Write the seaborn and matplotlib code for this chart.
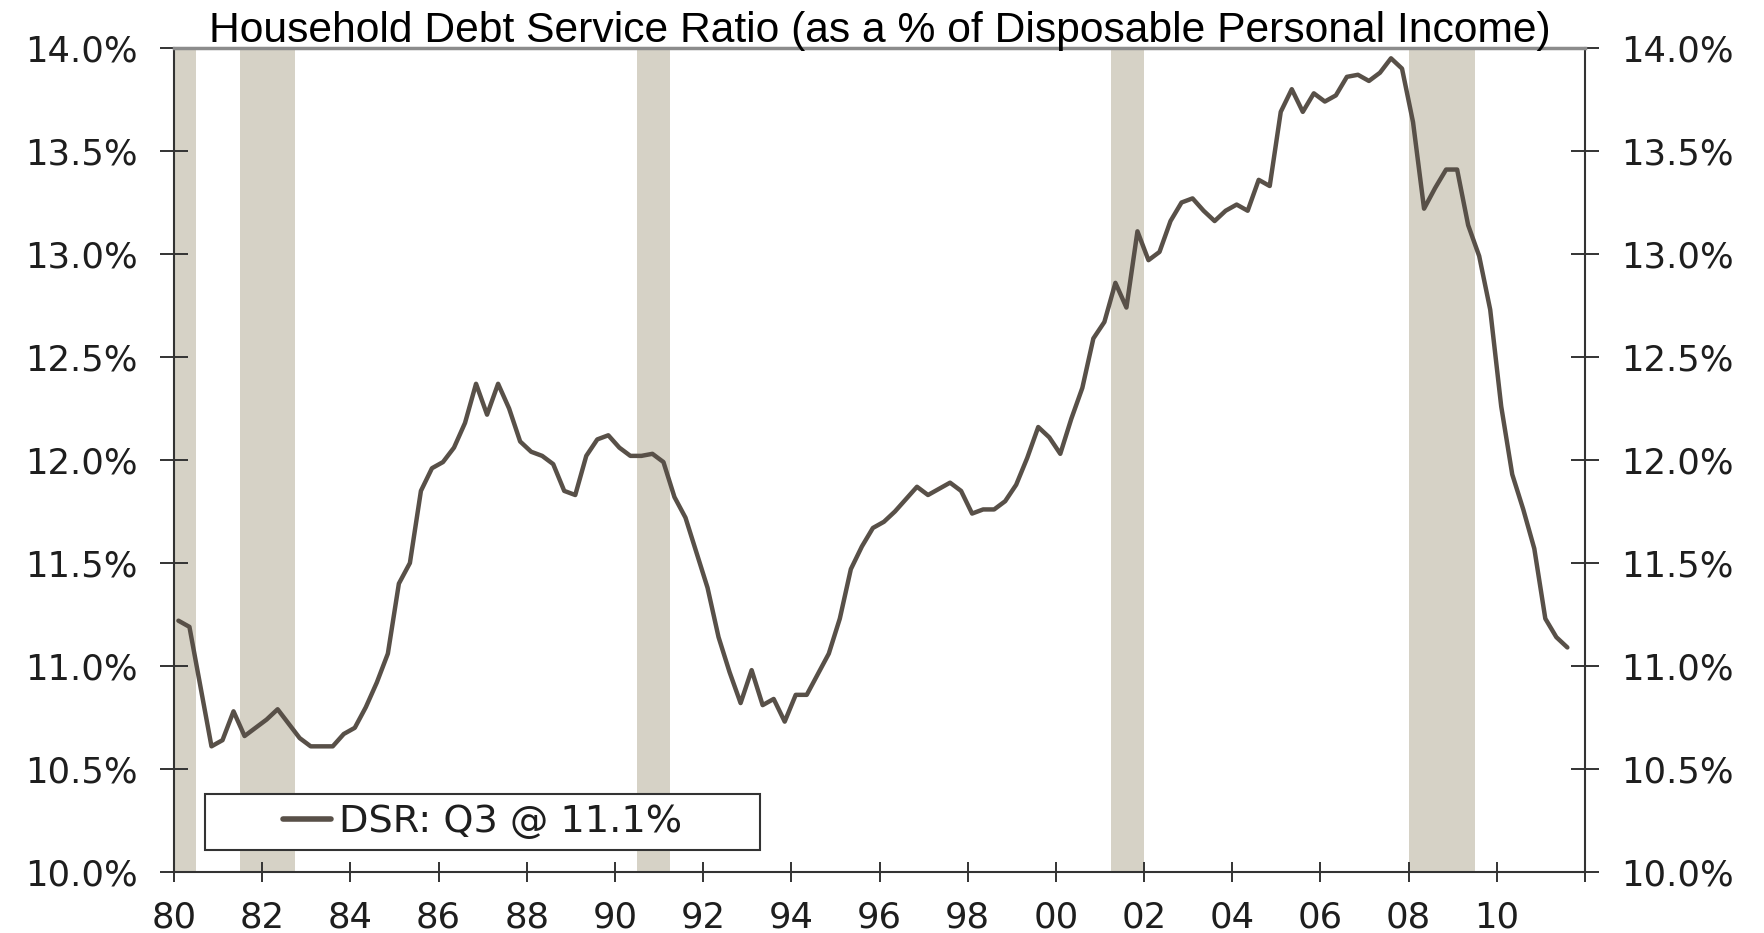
import numpy as np
import pandas as pd
import matplotlib
matplotlib.use("Agg")
import matplotlib.pyplot as plt
import seaborn as sns
from matplotlib.patches import Rectangle
from matplotlib import font_manager as fm

# ---------------- data ----------------
quarters = pd.period_range("1980Q1", "2011Q3", freq="Q")
dsr = [
    11.22, 11.19, 10.90, 10.61, 10.64, 10.78, 10.66, 10.70, 10.74, 10.79,
    10.72, 10.65, 10.61, 10.61, 10.61, 10.67, 10.70, 10.80, 10.92, 11.06,
    11.40, 11.50, 11.85, 11.96, 11.99, 12.06, 12.18, 12.37, 12.22, 12.37,
    12.25, 12.09, 12.04, 12.02, 11.98, 11.85, 11.83, 12.02, 12.10, 12.12,
    12.06, 12.02, 12.02, 12.03, 11.99, 11.82, 11.72, 11.55, 11.38, 11.14,
    10.97, 10.82, 10.98, 10.81, 10.84, 10.73, 10.86, 10.86, 10.96, 11.06,
    11.23, 11.47, 11.58, 11.67, 11.70, 11.75, 11.81, 11.87, 11.83, 11.86,
    11.89, 11.85, 11.74, 11.76, 11.76, 11.80, 11.88, 12.01, 12.16, 12.11,
    12.03, 12.20, 12.35, 12.59, 12.67, 12.86, 12.74, 13.11, 12.97, 13.01,
    13.16, 13.25, 13.27, 13.21, 13.16, 13.21, 13.24, 13.21, 13.36, 13.33,
    13.69, 13.80, 13.69, 13.78, 13.74, 13.77, 13.86, 13.87, 13.84, 13.88,
    13.95, 13.90, 13.64, 13.22, 13.32, 13.41, 13.41, 13.14, 12.99, 12.73,
    12.26, 11.93, 11.76, 11.57, 11.23, 11.14, 11.09,
]
rec_start = [1980.0, 1981.5, 1990.5, 2001.25, 2008.0]
rec_end = [1980.5, 1982.75, 1991.25, 2002.0, 2009.5]
xtick_years = list(range(1980, 2011, 2))
xtick_labels = [f"{y % 100:02d}" for y in xtick_years]
ytick_vals = [10.0, 10.5, 11.0, 11.5, 12.0, 12.5, 13.0, 13.5, 14.0]
ytick_labels = [f"{v:.1f}%" for v in ytick_vals]
title_text = "Household Debt Service Ratio (as a % of Disposable Personal Income)"
legend_label = "DSR: Q3 @ 11.1%"

# ---------------- style ----------------
sns.set_style("white")
plt.rcParams["font.family"] = ["DejaVu Sans"]

LINE = "#585048"
BAND = "#d6d2c6"
AXC = "#333333"
LBL = "#1e1e1e"

W_PX, H_PX = 1765, 933
fig = plt.figure(figsize=(W_PX / 100, H_PX / 100), dpi=100)
fig.patch.set_facecolor("white")
L, R, T, B = 174, 1585, 48, 872
ax = fig.add_axes([L / W_PX, 1 - B / H_PX, (R - L) / W_PX, (B - T) / H_PX])

df = pd.DataFrame({
    "t": quarters.year + (quarters.quarter - 1) / 4 + 0.1,
    "DSR": dsr,
})

for s, e in zip(rec_start, rec_end):
    ax.axvspan(s, e, color=BAND, lw=0, zorder=0)

sns.lineplot(data=df, x="t", y="DSR", ax=ax, color=LINE, lw=3.2, zorder=3)

ax.set_xlim(1980, 2012)
ax.set_ylim(10, 14)
ax.set_xticks(xtick_years, xtick_labels)
ax.set_xticks([2012], minor=True)
ax.set_yticks(ytick_vals, ytick_labels)
ax.set_xlabel("")
ax.set_ylabel("")

ax.tick_params(axis="both", which="both", direction="inout", color=AXC, width=1.4,
               labelcolor=LBL)
ax.tick_params(axis="y", length=20, pad=16, left=True, right=True,
               labelleft=True, labelright=True, labelsize=25.5)
ax.tick_params(axis="x", which="both", length=15, pad=13, bottom=True, top=False,
               labelsize=25.5)

for side in ["left", "bottom", "right"]:
    ax.spines[side].set_color(AXC)
    ax.spines[side].set_linewidth(1.5)
ax.spines["top"].set_color("#8c8c8c")
ax.spines["top"].set_linewidth(2.5)

# legend box
x0 = (205 - L) / (R - L)
y0 = (B - 850) / (B - T)
w = (760 - 205) / (R - L)
h = (850 - 794) / (B - T)
rect = Rectangle((x0, y0), w, h, transform=ax.transAxes, facecolor="white",
                 edgecolor=AXC, lw=1.5, zorder=6)
ax.add_patch(rect)
leg = ax.legend(handles=[ax.lines[0]], labels=[legend_label], loc="center",
                bbox_to_anchor=(x0 + w / 2, y0 + h / 2), frameon=False,
                fontsize=27.5, handlelength=1.25, handletextpad=0.22,
                borderpad=0.2)
leg.set_zorder(7)
for lh in leg.get_lines():
    lh.set_linewidth(4.0)
for tx in leg.get_texts():
    tx.set_color(LBL)

names = {f.name for f in fm.fontManager.ttflist}
title_family = ["Liberation Sans Narrow"] if "Liberation Sans Narrow" in names else ["Liberation Sans"]
fig.text(((L + R) / 2) / W_PX, 1 - 42 / H_PX, title_text, ha="center", va="baseline",
         fontsize=30.7, family=title_family + ["DejaVu Sans"], color="black")

fig.savefig("out.png", dpi=100, facecolor="white")
